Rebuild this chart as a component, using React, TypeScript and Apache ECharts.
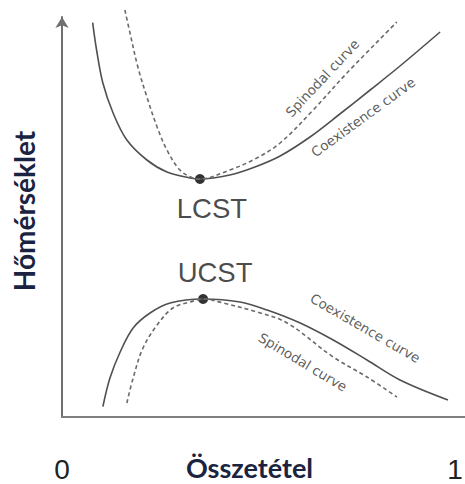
import React, { useEffect, useRef } from "react";
import * as echarts from "echarts";

// Phase diagram: temperature vs. composition (mole fraction 0..1), temperature in arbitrary units 0..100
const upperCoexistence: [number, number][] = [
  [0.078, 98.6], [0.088, 91.75], [0.104, 83.5], [0.13, 76], [0.165, 69.25],
  [0.216, 64.25], [0.267, 61.25], [0.326, 59.75], [0.351, 59.5], [0.427, 60.5],
  [0.491, 62.5], [0.555, 65.25], [0.631, 70], [0.707, 75.75], [0.784, 81.75],
  [0.86, 87.75], [0.962, 96.25],
];
const upperSpinodal: [number, number][] = [
  [0.16, 101.75], [0.173, 96], [0.193, 87.5], [0.216, 80], [0.242, 72.5],
  [0.267, 66.75], [0.3, 61.75], [0.333, 59.75], [0.351, 59.5], [0.427, 61.75],
  [0.491, 64.5], [0.555, 68.5], [0.639, 76.75], [0.725, 86], [0.852, 98.75],
];
const lowerCoexistence: [number, number][] = [
  [0.104, 2.6], [0.122, 9.75], [0.148, 16.25], [0.181, 22.25], [0.224, 26],
  [0.275, 28.5], [0.359, 29.5], [0.453, 28.75], [0.522, 26.75], [0.606, 23.5],
  [0.69, 19.25], [0.776, 14.25], [0.86, 9.25], [0.982, 4.25],
];
const lowerSpinodal: [number, number][] = [
  [0.165, 3.5], [0.181, 9.75], [0.206, 17.25], [0.242, 23], [0.282, 27.25],
  [0.326, 28.75], [0.359, 29.5], [0.41, 28.5], [0.496, 26.25], [0.573, 23.5],
  [0.69, 15], [0.776, 10], [0.852, 5],
];

// Critical solution temperatures
const criticalNames = ["LCST", "UCST"];
const criticalPoints: [number, number][] = [[0.351, 59.5], [0.359, 29.5]];

// Curve annotations
const curveLabelTexts = ["Spinodal curve", "Coexistence curve", "Coexistence curve", "Spinodal curve"];
const curveLabelPoints: [number, number][] = [[0.662, 84.75], [0.766, 75], [0.772, 22.25], [0.613, 13.75]];
const curveLabelAngles = [47, 36, -30, -31];

const xTickValues = [0, 1];
const xTitle = "Összetétel";
const yTitle = "Hőmérséklet";

const titleColor = "#1a2340";

export default function App() {
  const ref = useRef<HTMLDivElement>(null);

  useEffect(() => {
    if (!ref.current) return;
    const chart = echarts.init(ref.current, undefined, { renderer: "svg" });

    const curve = (data: [number, number][], dashed: boolean) => ({
      type: "line",
      data,
      smooth: 0.35,
      showSymbol: false,
      symbol: "none",
      clip: false,
      silent: true,
      lineStyle: dashed
        ? { color: "#6a6a6a", width: 1.6, type: [4, 3] }
        : { color: "#505050", width: 1.6 },
    });

    chart.setOption({
      animation: false,
      backgroundColor: "#ffffff",
      grid: { left: 62, right: 0, top: 17, bottom: 67, outerBoundsMode: "none", containLabel: false },
      xAxis: {
        type: "value",
        min: 0,
        max: 1.0254,
        name: xTitle,
        nameLocation: "middle",
        nameGap: 37,
        nameMoveOverlap: false,
        nameTextStyle: {
          fontFamily: "Lato",
          fontWeight: "bold",
          fontSize: 27,
          color: titleColor,
          padding: [0, 28, 0, 0],
        },
        axisLine: { show: true, lineStyle: { color: "#7f7f7f", width: 2 } },
        axisTick: { show: false },
        splitLine: { show: false },
        axisLabel: {
          customValues: xTickValues,
          margin: 38,
          fontFamily: "Liberation Sans",
          fontSize: 28,
          color: "#222222",
        },
      },
      yAxis: {
        type: "value",
        min: 0,
        max: 100,
        name: yTitle,
        nameLocation: "middle",
        nameRotate: 90,
        nameGap: 24,
        nameMoveOverlap: false,
        nameTextStyle: {
          fontFamily: "Lato",
          fontWeight: "bold",
          fontSize: 28,
          color: titleColor,
          padding: [0, 0, 0, 12],
        },
        axisLine: {
          show: true,
          symbol: ["none", "arrow"],
          symbolSize: [10, 11],
          lineStyle: { color: "#6f6f6f", width: 2 },
        },
        axisTick: { show: false },
        splitLine: { show: false },
        axisLabel: { show: false },
      },
      series: [
        curve(upperCoexistence, false),
        curve(upperSpinodal, true),
        curve(lowerCoexistence, false),
        curve(lowerSpinodal, true),
        {
          type: "scatter",
          silent: true,
          symbolSize: 10,
          itemStyle: { color: "#000000" },
          data: criticalPoints.map((p, i) => ({
            name: criticalNames[i],
            value: p,
            label: {
              show: true,
              formatter: "{b}",
              position: i === 0 ? "bottom" : "top",
              distance: i === 0 ? 10 : 8,
              offset: [12, 0],
              fontFamily: "Liberation Sans",
              fontSize: 27.5,
              color: "#1a1a1a",
            },
          })),
        },
        {
          type: "scatter",
          silent: true,
          symbolSize: 0,
          data: curveLabelPoints.map((p, i) => ({
            name: curveLabelTexts[i],
            value: p,
            label: {
              show: true,
              formatter: "{b}",
              position: "inside",
              rotate: curveLabelAngles[i],
              fontFamily: "DejaVu Sans",
              fontSize: 13.5,
              color: "#333333",
            },
          })),
        },
      ],
    });

    return () => chart.dispose();
  }, []);

  return (
    <div
      ref={ref}
      style={{ position: "fixed", left: 0, top: 0, width: 465, height: 484, background: "#fff" }}
    />
  );
}
